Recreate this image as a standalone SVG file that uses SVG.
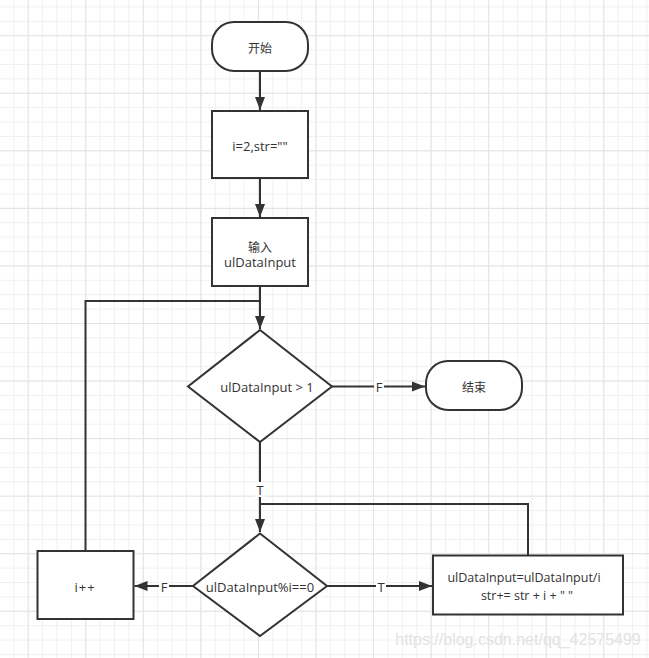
<svg xmlns="http://www.w3.org/2000/svg" width="649" height="658" viewBox="0 0 649 658">
<defs>
<pattern id="minor" patternUnits="userSpaceOnUse" x="27.7" y="35.2" width="14.39" height="14.39">
<path d="M0 0.5H14.39M0.5 0V14.39" fill="none" stroke="#f0f0f0" stroke-width="1"/>
</pattern>
<pattern id="major" patternUnits="userSpaceOnUse" x="27.7" y="35.2" width="57.56" height="57.56">
<path d="M0 0.5H57.56M0.5 0V57.56" fill="none" stroke="#e3e3e3" stroke-width="1"/>
</pattern>
<marker id="arr" markerUnits="userSpaceOnUse" markerWidth="14" markerHeight="12" viewBox="0 0 14 12" refX="13" refY="6" orient="auto">
<path d="M0 1L13 6L0 11Z" fill="#333"/>
</marker>
<style>
.shape{fill:#fff;stroke:#333;stroke-width:2}
.conn{fill:none;stroke:#333;stroke-width:2}
.t{font-family:"Open Sans","Noto Sans CJK SC",sans-serif;font-size:13px;fill:#333;text-anchor:middle;dominant-baseline:central}
.cn{font-family:"Noto Sans CJK SC",sans-serif;font-size:12px}
.sm{font-size:12.5px}
.lbl{fill:#fff}
</style>
</defs>
<rect width="649" height="658" fill="#fff"/>
<rect width="649" height="658" fill="url(#minor)"/>
<rect width="649" height="658" fill="url(#major)"/>

<g id="connectors">
<path class="conn" d="M260 71V110" marker-end="url(#arr)"/>
<path class="conn" d="M260 178V217" marker-end="url(#arr)"/>
<path class="conn" d="M260 286V329" marker-end="url(#arr)"/>
<path class="conn" d="M85.5 551V301H260"/>
<path class="conn" d="M332 386.5H425" marker-end="url(#arr)"/>
<path class="conn" d="M260 442V504"/>
<path class="conn" d="M528 555V504H260V532" marker-end="url(#arr)"/>
<path class="conn" d="M193 586H134.5" marker-end="url(#arr)"/>
<path class="conn" d="M327 586H432" marker-end="url(#arr)"/>
<g id="labels">
<rect class="lbl" x="374" y="379" width="10" height="15"/>
<text class="t" x="379" y="387">F</text>
<rect class="lbl" x="255" y="482" width="10" height="15"/>
<text class="t" x="260" y="490">T</text>
<rect class="lbl" x="159" y="578" width="10" height="15"/>
<text class="t" x="164" y="587">F</text>
<rect class="lbl" x="376" y="578" width="10" height="15"/>
<text class="t" x="381" y="587">T</text>
</g>
</g>

<g id="start">
<rect class="shape" x="212" y="22" width="96" height="49" rx="22" ry="22"/>
<text class="t cn" x="260" y="47">开始</text>
</g>
<g id="init">
<rect class="shape" x="212" y="111" width="96" height="67"/>
<text class="t" x="260" y="146">i=2,str=""</text>
</g>
<g id="input">
<rect class="shape" x="212" y="218" width="96" height="68"/>
<text class="t cn" x="260" y="246">输入</text>
<text class="t" x="260" y="262">ulDataInput</text>
</g>
<g id="cond1">
<path class="shape" d="M260 330L332 386.5L260 442L188 386.5Z"/>
<text class="t" x="267" y="386.5">ulDataInput &gt; 1</text>
</g>
<g id="end">
<rect class="shape" x="426" y="361" width="96" height="49" rx="22" ry="22"/>
<text class="t cn" x="474" y="386">结束</text>
</g>
<g id="cond2">
<path class="shape" d="M260 533.5L327 586L260 636L193 586Z"/>
<text class="t" x="260" y="586.5">ulDataInput%i==0</text>
</g>
<g id="inc">
<rect class="shape" x="37.5" y="551" width="96" height="68"/>
<text class="t" x="85" y="586.5" letter-spacing="1">i++</text>
</g>
<g id="divide">
<rect class="shape" x="433" y="555.5" width="190" height="59"/>
<text class="t sm" x="524" y="577.5">ulDataInput=ulDataInput/i</text>
<text class="t sm" x="527" y="595" xml:space="preserve">str+= str + i + " "</text>
</g>
<text x="518" y="639" font-family="Liberation Sans,sans-serif" font-size="16" fill="#e2e2e2" text-anchor="middle" dominant-baseline="central">https://blog.csdn.net/qq_42575499</text>
</svg>
